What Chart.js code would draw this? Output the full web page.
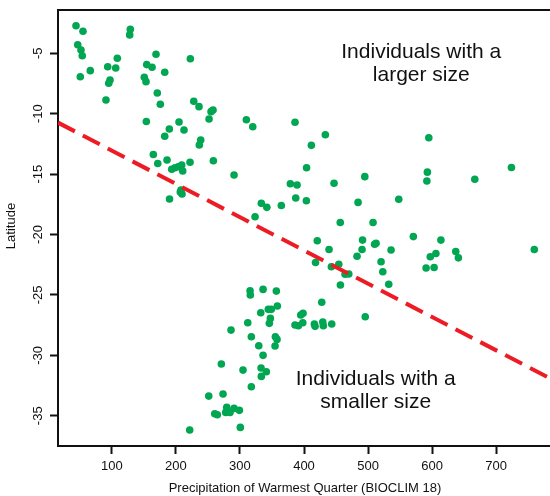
<!DOCTYPE html>
<html>
<head>
<meta charset="utf-8">
<script src="https://cdn.jsdelivr.net/npm/chart.js@4"></script>
<style>
  body { margin: 0; background: #fff; }
</style>
</head>
<body>
<canvas id="chart" width="550" height="496"></canvas>
<script>
// precipitation of warmest quarter (mm) and latitude of each individual
const precip = [
  44.1, 55.0, 46.8, 51.9, 53.9, 50.8, 66.4, 128.9, 127.9, 93.6,
  106.1, 108.6, 97.2, 95.2, 90.9, 169.0, 154.5, 162.8, 182.6, 150.7,
  153.4, 171.0, 175.7, 222.6, 227.9, 236.1, 153.9, 204.9, 189.8, 212.7,
  182.6, 222.1, 164.8, 171.7, 186.2, 193.5, 198.7, 203.8, 209.1, 210.7,
  190.1, 208.0, 209.6, 206.9, 251.8, 254.9, 258.0, 238.8, 236.6, 258.5,
  290.8, 310.0, 320.0, 386.0, 433.3, 411.5, 404.0, 378.7, 389.2, 446.9,
  494.9, 387.1, 403.7, 484.4, 333.4, 342.0, 364.6, 323.6, 456.6, 507.8,
  420.7, 439.1, 491.4, 490.6, 510.2, 512.5, 594.8, 592.6, 591.8, 666.6,
  723.8, 547.9, 570.7, 613.7, 535.9, 636.9, 641.0, 605.9, 597.1, 590.6,
  603.1, 520.3, 523.0, 532.3, 759.5, 482.8, 418.0, 442.7, 454.3, 464.1,
  469.9, 456.8, 427.7, 495.6, 315.8, 316.2, 336.1, 356.8, 332.5, 344.3,
  349.0, 358.4, 312.2, 347.5, 345.9, 286.1, 317.8, 355.3, 357.9, 354.8,
  329.4, 336.1, 271.0, 304.8, 333.0, 341.2, 333.4, 317.8, 251.3, 273.6,
  260.7, 264.7, 277.8, 279.4, 284.5, 290.8, 299.1, 221.6, 300.6, 398.5,
  394.9, 386.0, 391.2, 398.1, 416.2, 417.3, 429.3, 430.2, 443.3
];
const latitude = [
  -2.72, -3.18, -4.29, -4.73, -5.20, -6.94, -6.44, -3.01, -3.48, -6.11,
  -6.22, -5.41, -7.21, -7.48, -8.87, -5.08, -5.94, -6.16, -6.57, -6.99,
  -7.35, -8.29, -9.22, -5.45, -8.97, -9.42, -10.65, -10.69, -11.27, -11.35,
  -11.87, -14.02, -13.38, -14.12, -13.83, -14.60, -14.47, -14.39, -14.25, -14.74,
  -17.06, -16.32, -16.65, -16.48, -10.44, -9.83, -9.69, -12.18, -12.59, -13.89,
  -15.07, -10.50, -11.08, -10.71, -11.74, -12.62, -14.47, -15.80, -15.90, -15.76,
  -15.21, -16.98, -17.20, -17.34, -17.42, -17.75, -17.60, -18.53, -19.01, -19.01,
  -20.51, -21.24, -20.46, -21.24, -20.81, -20.73, -11.99, -14.84, -15.57, -15.42,
  -14.45, -17.08, -20.17, -20.46, -21.28, -21.41, -21.93, -21.57, -21.84, -22.77,
  -22.73, -22.25, -23.08, -24.11, -21.24, -21.80, -22.32, -22.67, -22.46, -23.29,
  -23.27, -24.18, -25.61, -26.80, -24.65, -25.01, -24.54, -24.68, -26.47, -26.19,
  -26.19, -25.92, -27.30, -26.94, -27.35, -27.91, -28.46, -28.46, -28.68, -29.23,
  -29.21, -30.00, -30.72, -31.22, -31.05, -31.36, -31.74, -32.60, -33.37, -33.20,
  -34.83, -34.92, -34.72, -34.30, -34.72, -34.39, -34.55, -36.18, -35.96, -26.52,
  -26.66, -27.49, -27.55, -27.30, -27.41, -27.60, -27.24, -27.55, -27.41
];

// fitted trend line (dashed red)
const trendX = [16, 784];
const trendY = [-10.74, -31.9];

const xTicks = [100, 200, 300, 400, 500, 600, 700];
const yTicks = [-5, -10, -15, -20, -25, -30, -35];

const FONT = '"Liberation Sans", Arial, Helvetica, sans-serif';

const points = precip.map((p, i) => ({ x: p, y: latitude[i] }));
const trend = trendX.map((x, i) => ({ x: x, y: trendY[i] }));

// top frame line, rotated y tick labels, axis titles and the two notes
const extras = {
  id: 'extras',
  afterDraw(chart) {
    const c = chart.ctx;
    const a = chart.chartArea;
    const xs = chart.scales.x, ys = chart.scales.y;
    c.save();
    c.strokeStyle = '#111';
    c.lineWidth = 2;
    c.beginPath();
    c.moveTo(a.left - 1, a.top);
    c.lineTo(a.right, a.top);
    c.stroke();

    c.fillStyle = '#111';
    c.textAlign = 'center';
    c.textBaseline = 'middle';
    c.font = '13px ' + FONT;
    ys.ticks.forEach(t => {
      c.save();
      c.translate(a.left - 20, ys.getPixelForValue(t.value));
      c.rotate(-Math.PI / 2);
      c.fillText(String(t.value), 0, 0);
      c.restore();
    });
    c.save();
    c.translate(11, (a.top + a.bottom) / 2 - 2);
    c.rotate(-Math.PI / 2);
    c.fillText('Latitude', 0, 0);
    c.restore();
    c.fillText('Precipitation of Warmest Quarter (BIOCLIM 18)', (a.left + a.right) / 2 + 1, a.bottom + 42);

    c.font = '21px ' + FONT;
    c.textBaseline = 'alphabetic';
    const notes = [
      ['Individuals with a', 583, -5.39],
      ['larger size', 583, -7.33],
      ['Individuals with a', 512, -32.46],
      ['smaller size', 512, -34.32]
    ];
    notes.forEach(n => c.fillText(n[0], xs.getPixelForValue(n[1]), ys.getPixelForValue(n[2])));
    c.restore();
  }
};

new Chart(document.getElementById('chart'), {
  type: 'scatter',
  data: {
    datasets: [{
      data: points,
      backgroundColor: '#00a651',
      borderWidth: 0,
      pointRadius: 3.8,
      order: 2
    }, {
      type: 'line',
      data: trend,
      borderColor: '#ed1c24',
      borderWidth: 4,
      borderDash: [19, 9],
      pointRadius: 0,
      fill: false,
      order: 1
    }]
  },
  options: {
    responsive: false,
    animation: false,
    events: [],
    layout: { autoPadding: false, padding: { top: 10, right: 0, left: 0, bottom: 0 } },
    plugins: { legend: { display: false }, tooltip: { enabled: false } },
    scales: {
      x: {
        type: 'linear',
        min: 16, max: 784,
        afterBuildTicks: s => { s.ticks = xTicks.map(v => ({ value: v })); },
        afterFit: s => { s.height = 50; s.paddingLeft = 0; s.paddingRight = 0; },
        grid: { drawOnChartArea: false, tickLength: 8, tickWidth: 2, tickColor: '#111' },
        border: { color: '#111', width: 2 },
        ticks: { color: '#111', font: { family: FONT, size: 13 }, padding: 5, maxRotation: 0 }
      },
      y: {
        type: 'linear',
        min: -37.5, max: -1.42,
        afterBuildTicks: s => { s.ticks = yTicks.map(v => ({ value: v })); },
        afterFit: s => { s.width = 58; s.paddingTop = 0; s.paddingBottom = 0; },
        grid: { drawOnChartArea: false, tickLength: 8, tickWidth: 2, tickColor: '#111' },
        border: { color: '#111', width: 2 },
        ticks: { display: false }
      }
    }
  },
  plugins: [extras]
});
</script>
</body>
</html>
